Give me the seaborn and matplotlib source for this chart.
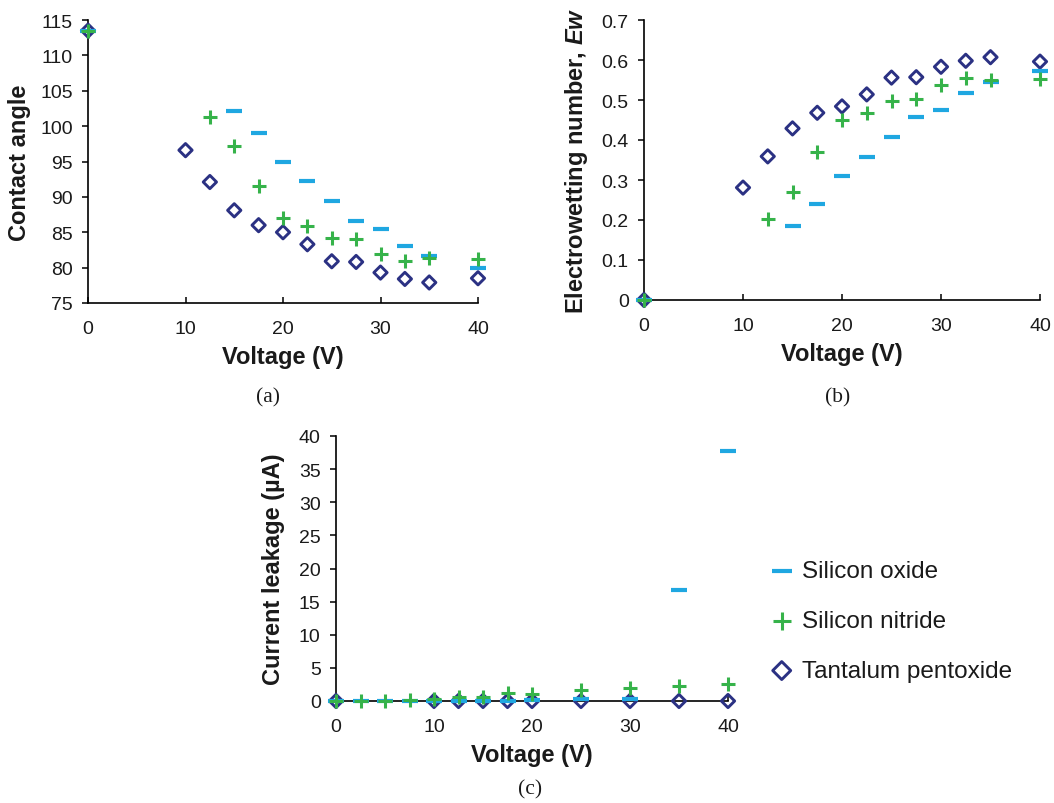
import matplotlib
matplotlib.use("Agg")
import matplotlib.pyplot as plt
import seaborn as sns
import numpy as np

# ---------------- data ----------------
series_names = ["Silicon oxide", "Silicon nitride", "Tantalum pentoxide"]

# (a) contact angle
v_a_oxide = [0, 15, 17.5, 20, 22.5, 25, 27.5, 30, 32.5, 35, 40]
ca_oxide = [113.5, 102.2, 99.0, 95.0, 92.3, 89.4, 86.6, 85.4, 83.0, 81.6, 79.9]
v_a_nitride = [0, 12.5, 15, 17.5, 20, 22.5, 25, 27.5, 30, 32.5, 35, 40]
ca_nitride = [113.5, 101.3, 97.2, 91.6, 87.0, 85.9, 84.2, 84.0, 81.9, 80.9, 81.4, 81.2]
v_a_tantalum = [0, 10, 12.5, 15, 17.5, 20, 22.5, 25, 27.5, 30, 32.5, 35, 40]
ca_tantalum = [113.5, 96.6, 92.1, 88.1, 86.0, 85.0, 83.3, 80.9, 80.8, 79.3, 78.4, 77.9, 78.5]

# (b) electrowetting number
v_b_oxide = [0, 15, 17.5, 20, 22.5, 25, 27.5, 30, 32.5, 35, 40]
ew_oxide = [0, 0.186, 0.241, 0.310, 0.358, 0.407, 0.457, 0.476, 0.517, 0.544, 0.572]
v_b_nitride = [0, 12.5, 15, 17.5, 20, 22.5, 25, 27.5, 30, 32.5, 35, 40]
ew_nitride = [0, 0.202, 0.271, 0.370, 0.449, 0.468, 0.498, 0.502, 0.538, 0.555, 0.549, 0.552]
v_b_tantalum = [0, 10, 12.5, 15, 17.5, 20, 22.5, 25, 27.5, 30, 32.5, 35, 40]
ew_tantalum = [0, 0.281, 0.359, 0.429, 0.468, 0.484, 0.514, 0.556, 0.557, 0.583, 0.598, 0.607, 0.596]

# (c) current leakage
v_c_oxide = [0, 2.5, 5, 7.5, 10, 12.5, 15, 17.5, 20, 25, 30, 35, 40]
il_oxide = [0, 0, 0, 0, 0, 0, 0, 0, 0.1, 0.3, 0.3, 16.8, 37.8]
v_c_nitride = [0, 2.5, 5, 7.5, 10, 12.5, 15, 17.5, 20, 25, 30, 35, 40]
il_nitride = [0, 0, 0, 0.2, 0.3, 0.6, 0.6, 1.2, 1.1, 1.7, 1.9, 2.3, 2.6]
v_c_tantalum = [0, 10, 12.5, 15, 17.5, 20, 25, 30, 35, 40]
il_tantalum = [0, 0, 0, 0, 0, 0, 0, 0, 0, 0]

x_ticks = [0, 10, 20, 30, 40]
captions = ["(a)", "(b)", "(c)"]

# ---------------- style ----------------
sns.set_theme(style="ticks")
plt.rcParams["font.family"] = ["Liberation Sans", "DejaVu Sans"]
plt.rcParams["mathtext.fontset"] = "custom"
plt.rcParams["mathtext.rm"] = "Liberation Sans"
plt.rcParams["mathtext.it"] = "Liberation Sans:italic"
plt.rcParams["mathtext.bf"] = "Liberation Sans:bold"
plt.rcParams["mathtext.bfit"] = "Liberation Sans:italic:bold"

C_OX = "#1fa7e1"
C_NI = "#36b34a"
C_TA = "#2b3183"
TXT = "#1a1a1a"

fig = plt.figure(figsize=(10.54, 8.04), dpi=100)
W, H = 1054, 804

def axes_px(l, t, r, b):
    return fig.add_axes([l / W, 1 - b / H, (r - l) / W, (b - t) / H])

ax_a = axes_px(88, 21, 478, 304)
ax_b = axes_px(644, 21, 1040, 301)
ax_c = axes_px(336, 437, 728, 702)

def draw(ax, vo, yo, vn, yn, vt, yt, order):
    kw_ox = dict(marker="_", s=125, linewidth=3.0, color=C_OX, clip_on=False, zorder=4)
    kw_ni = dict(marker="+", s=100, linewidth=2.2, color=C_NI, clip_on=False, zorder=5)
    kw_ta = dict(marker="D", s=46, linewidth=2.1, color=C_TA, facecolor="none",
                 edgecolor=C_TA, clip_on=False, zorder=3)
    calls = {
        "ox": lambda: sns.scatterplot(x=vo, y=yo, ax=ax, label=series_names[0], **kw_ox),
        "ni": lambda: sns.scatterplot(x=vn, y=yn, ax=ax, label=series_names[1], **kw_ni),
        "ta": lambda: sns.scatterplot(x=vt, y=yt, ax=ax, label=series_names[2], **kw_ta),
    }
    for k in order:
        calls[k]()

draw(ax_a, v_a_oxide, ca_oxide, v_a_nitride, ca_nitride, v_a_tantalum, ca_tantalum,
     ["ta", "ox", "ni"])
draw(ax_b, v_b_oxide, ew_oxide, v_b_nitride, ew_nitride, v_b_tantalum, ew_tantalum,
     ["ta", "ni", "ox"])
draw(ax_c, v_c_oxide, il_oxide, v_c_nitride, il_nitride, v_c_tantalum, il_tantalum,
     ["ox", "ni", "ta"])

def style(ax, ylim, yticks, ylabel, ylab_x):
    ax.set_xlim(0, 40)
    ax.set_ylim(*ylim)
    ax.set_xticks(x_ticks)
    ax.set_yticks(yticks)
    for s in ["top", "right"]:
        ax.spines[s].set_visible(False)
    for s in ["left", "bottom"]:
        ax.spines[s].set_color("black")
        ax.spines[s].set_linewidth(1.2)
        ax.spines[s].set_zorder(2)
    ax.tick_params(axis="x", direction="in", length=4, width=1.1, color="black",
                   labelsize=14, pad=12, labelcolor=TXT)
    ax.tick_params(axis="y", direction="out", length=4, width=1.1, color="black",
                   labelsize=14, pad=7, labelcolor=TXT)
    ax.set_xlabel("Voltage (V)", fontsize=17, fontweight="bold", color=TXT, labelpad=6)
    ax.set_ylabel(ylabel, fontsize=17, fontweight="bold", color=TXT)
    ax.yaxis.set_label_coords(ylab_x, 0.5)
    if ax.get_legend() is not None:
        ax.get_legend().remove()
    ax.grid(False)

style(ax_a, (75, 115), list(range(75, 116, 5)), "Contact angle", -0.146)
style(ax_b, (0, 0.7), [0, 0.1, 0.2, 0.3, 0.4, 0.5, 0.6, 0.7],
      r"Electrowetting number, $\mathbfit{Ew}$", -0.136)
ax_b.yaxis.set_major_formatter(matplotlib.ticker.FuncFormatter(
    lambda v, p: "0" if abs(v) < 1e-9 else f"{v:.1f}"))
style(ax_c, (0, 40), list(range(0, 41, 5)), "Current leakage (\u00b5A)", -0.130)

# legend
h, l = ax_c.get_legend_handles_labels()
fig.legend(h, l, loc="upper left", bbox_to_anchor=(772 / W, 1 - 561 / H),
           frameon=False, fontsize=17.5, markerscale=1.35, handlelength=0.8,
           handletextpad=0.45, labelspacing=1.15, borderaxespad=0, borderpad=0,
           labelcolor=TXT)

# captions
for txt, (cx, cy) in zip(captions, [(268, 398), (838, 398), (530, 790)]):
    fig.text(cx / W, 1 - cy / H, txt, ha="center", va="center",
             fontsize=15.5, family=["Liberation Serif", "DejaVu Serif"], color=TXT)

fig.savefig("out.png", dpi=100)
